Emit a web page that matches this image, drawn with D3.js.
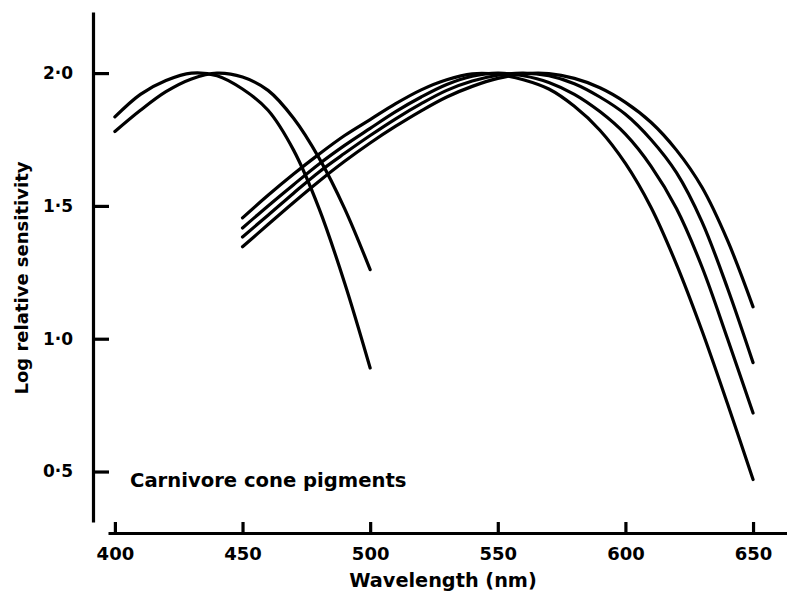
<!DOCTYPE html>
<html>
<head>
<meta charset="utf-8">
<script src="https://cdn.jsdelivr.net/npm/d3@7"></script>
<style>
  html, body { margin: 0; padding: 0; background: #fff; }
  svg { display: block; }
  text { font-family: "DejaVu Sans", sans-serif; fill: #000; }
</style>
</head>
<body>
<svg id="chart" width="787" height="595"></svg>
<script>
// Wavelength sample points (nm) for the two short-wave pigments
const swWavelengths = [400, 410, 420, 430, 440, 450, 460, 470, 480, 490, 500];
// Short-wave pigment with peak near 430 nm
const sw430 = [1.835, 1.92, 1.972, 2.0, 1.99, 1.94, 1.86, 1.71, 1.49, 1.21, 0.89];
// Short-wave pigment with peak near 440 nm
const sw440 = [1.78, 1.86, 1.93, 1.978, 2.0, 1.985, 1.935, 1.83, 1.68, 1.49, 1.26];

// Wavelength sample points (nm) for the four long-wave pigments
const lwWavelengths = [450, 460, 470, 480, 490, 500, 510, 520, 530, 540, 550,
                       560, 570, 580, 590, 600, 610, 620, 630, 640, 650];
const lw1 = [1.455, 1.54, 1.62, 1.695, 1.765, 1.825, 1.885, 1.937, 1.975, 1.997, 1.995,
             1.975, 1.94, 1.875, 1.785, 1.66, 1.495, 1.28, 1.03, 0.755, 0.47];
const lw2 = [1.417, 1.50, 1.58, 1.658, 1.728, 1.792, 1.855, 1.91, 1.957, 1.988, 2.0,
             1.99, 1.965, 1.92, 1.855, 1.77, 1.65, 1.49, 1.27, 1.0, 0.72];
const lw3 = [1.383, 1.465, 1.548, 1.628, 1.698, 1.765, 1.828, 1.885, 1.935, 1.97, 1.992,
             2.0, 1.99, 1.96, 1.91, 1.845, 1.75, 1.625, 1.44, 1.19, 0.91];
const lw4 = [1.346, 1.43, 1.513, 1.593, 1.668, 1.737, 1.80, 1.858, 1.91, 1.95, 1.98,
             1.997, 1.998, 1.98, 1.945, 1.89, 1.815, 1.71, 1.57, 1.37, 1.12];

// Axis ticks and labels
const xTicks = [400, 450, 500, 550, 600, 650];
const yTicks = [0.5, 1.0, 1.5, 2.0];
const yTickLabels = ["0·5", "1·0", "1·5", "2·0"];

const xTitle = "Wavelength (nm)";
const yTitle = "Log relative sensitivity";
const note = "Carnivore cone pigments";

const svg = d3.select("#chart");

// Scales: the axis lines run a little past the first and last ticks
const x = d3.scaleLinear().domain([397.3, 663.3]).range([108, 787]);
const y = d3.scaleLinear().domain([0.31, 2.23]).range([522, 12]);
const xAxisY = 533;
const yAxisX = 93;

// Y axis, ticks pointing inward (to the right)
const yAxis = d3.axisLeft(y)
  .tickValues(yTicks)
  .tickFormat((d, i) => yTickLabels[i])
  .tickSizeInner(-16)
  .tickSizeOuter(0)
  .tickPadding(20);

const gy = svg.append("g")
  .attr("transform", `translate(${yAxisX},0)`)
  .call(yAxis);
gy.select(".domain").attr("stroke", "#000").attr("stroke-width", 3.2);
gy.selectAll(".tick line").attr("stroke", "#000").attr("stroke-width", 3.2);
gy.selectAll(".tick text")
  .attr("font-family", "DejaVu Sans")
  .attr("font-weight", "bold")
  .attr("font-size", 17)
  .attr("fill", "#000");

// X axis, ticks pointing upward
const xAxis = d3.axisBottom(x)
  .tickValues(xTicks)
  .tickFormat(d3.format("d"))
  .tickSizeInner(-11)
  .tickSizeOuter(0)
  .tickPadding(14);

const gx = svg.append("g")
  .attr("transform", `translate(0,${xAxisY})`)
  .call(xAxis);
gx.select(".domain").attr("stroke", "#000").attr("stroke-width", 3.2);
gx.selectAll(".tick line").attr("stroke", "#000").attr("stroke-width", 3.2);
gx.selectAll(".tick text")
  .attr("font-family", "DejaVu Sans")
  .attr("font-weight", "bold")
  .attr("font-size", 18)
  .attr("fill", "#000");

// Axis titles
svg.append("text")
  .attr("x", 443)
  .attr("y", 587)
  .attr("text-anchor", "middle")
  .attr("font-weight", "bold")
  .attr("font-size", 19.3)
  .text(xTitle);

svg.append("text")
  .attr("transform", "translate(28,278) rotate(-90)")
  .attr("text-anchor", "middle")
  .attr("font-weight", "bold")
  .attr("font-size", 18)
  .text(yTitle);

// Figure annotation
svg.append("text")
  .attr("x", 130)
  .attr("y", 487)
  .attr("font-weight", "bold")
  .attr("font-size", 19.6)
  .text(note);

// Spectral sensitivity curves
const line = d3.line()
  .x(d => x(d[0]))
  .y(d => y(d[1]))
  .curve(d3.curveCatmullRom.alpha(0.5));

const series = [
  { w: swWavelengths, v: sw430 },
  { w: swWavelengths, v: sw440 },
  { w: lwWavelengths, v: lw1 },
  { w: lwWavelengths, v: lw2 },
  { w: lwWavelengths, v: lw3 },
  { w: lwWavelengths, v: lw4 }
];

svg.append("g")
  .selectAll("path")
  .data(series)
  .join("path")
  .attr("d", s => line(s.w.map((w, i) => [w, s.v[i]])))
  .attr("fill", "none")
  .attr("stroke", "#000")
  .attr("stroke-width", 3.2)
  .attr("stroke-linecap", "round")
  .attr("stroke-linejoin", "round");
</script>
</body>
</html>
